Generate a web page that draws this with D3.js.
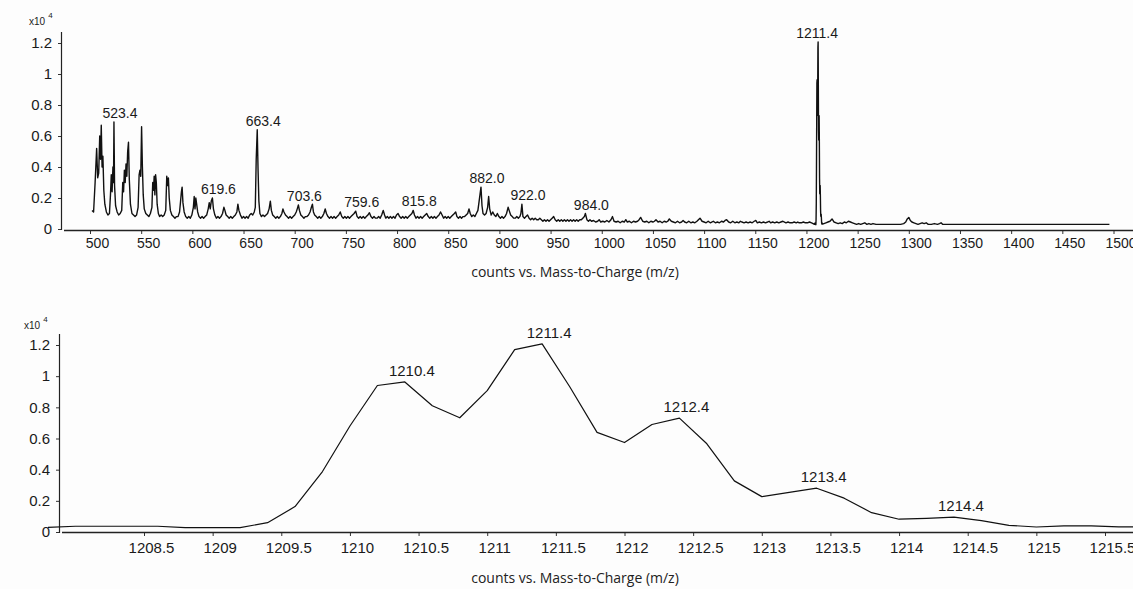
<!DOCTYPE html>
<html>
<head>
<meta charset="utf-8">
<script src="https://cdn.jsdelivr.net/npm/d3@7"></script>
<style>
  html, body { margin: 0; padding: 0; background: #fdfdfd; }
  svg { display: block; }
  .tick text { font-family: "Liberation Sans", Arial, sans-serif; fill: #1a1a1a; }
  .tick line { stroke: #333; }
  .peak-label { font-family: "Liberation Sans", Arial, sans-serif; fill: #1a1a1a; text-anchor: middle; }
  .axis-title { font-family: "Open Sans", "Noto Sans", sans-serif; fill: #222; text-anchor: middle; }
  .exp { font-family: "Liberation Sans", Arial, sans-serif; fill: #222; }
</style>
</head>
<body>
<svg id="chart" width="1133" height="589"></svg>
<script>
// Full scan, [m/z, counts x10^4], split by mass range
const scan500 = [
  [502,.12],[503.5,.11],[505,.30],[506.5,.52],[507.5,.33],[508.5,.36],[509.5,.60],[510.3,.45],[511,.67],[511.8,.40],
  [512.6,.47],[513.5,.25],[514.5,.16],[516,.11],[517.5,.09],[519,.10],[520,.22],[520.8,.35],[521.6,.24],[522.4,.40],
  [523,.30],[523.4,.69],[524,.28],[525,.15],[526.5,.11],[528,.09],[529.5,.10],[531,.12],[532,.30],[532.8,.24],
  [533.6,.38],[534.4,.30],[535.2,.42],[536,.34],[536.8,.50],[537.6,.56],[538.4,.32],[539.5,.16],[541,.10],[542.5,.09],
  [544,.08],[545.5,.09],[547,.14],[548,.35],[548.8,.38],[549.6,.34],[550.4,.66],[551.2,.40],[552,.22],[553,.13],
  [554.5,.10],[556,.09],[557.5,.08],[559,.10]
];
const scan560 = [
  [560.5,.14],[561.3,.30],[562,.25],[562.7,.34],[563.4,.22],[564.1,.35],[564.8,.30],[565.6,.16],[566.8,.10],[568,.08],
  [569.5,.09],[571,.08],[572.5,.09],[574,.12],[575,.34],[575.8,.28],[576.6,.33],[577.4,.20],[578.5,.12],[580,.09],
  [581.5,.08],[583,.07],[584.5,.08],[586,.08],[587.5,.11],[588.5,.18],[589.3,.24],[590,.27],[590.8,.17],[592,.11],
  [593.5,.08],[595,.07],[596.5,.08],[598,.07],[599.5,.09],[601,.14],[601.8,.21],[602.6,.13],[603.4,.20],[604.2,.16],
  [605.2,.11],[606.5,.08],[608,.07],[609.5,.08],[611,.07],[612.5,.08],[614,.09],[615.5,.13],[616.5,.17],[617.5,.13],
  [618.5,.18],[619.6,.20],[620.6,.13],[622,.09],[623.5,.07],[625,.08],[626.5,.07],[628,.08],[629.5,.10],[630.8,.14],
  [631.8,.12],[633,.09],[634.5,.08],[636,.07],[637.5,.08],[639,.07],[640.5,.08],[642,.09],[643.5,.11],[644.5,.16],
  [645.5,.12],[647,.09],[648.5,.07],[650,.08],[651.5,.07],[653,.08],[654.5,.07],[656,.09],[657.5,.10],[659,.09],
  [660.5,.11],[661.5,.14],[662.4,.45],[663.4,.64],[664.2,.38],[665,.18],[666,.10]
];
const scan667 = [
  [667.5,.08],[669,.09],[670.5,.08],[672,.09],[673.5,.10],[675,.13],[676.2,.18],[677.2,.12],[678.5,.09],[680,.08],
  [681.5,.07],[683,.08],[684.5,.07],[686,.08],[687.5,.10],[688.5,.13],[689.5,.11],[691,.09],[692.5,.08],[694,.07],
  [695.5,.08],[697,.07],[698.5,.08],[700,.09],[701.5,.11],[702.5,.13],[703.6,.155],[704.6,.12],[706,.09],[707.5,.08],
  [709,.07],[710.5,.08],[712,.08],[713.5,.09],[715,.11],[716.3,.14],[717.3,.16],[718.3,.11],[719.5,.09],[721,.08],
  [722.5,.07],[724,.08],[725.5,.07],[727,.08],[728.5,.10],[729.8,.13],[731,.10],[732.5,.08],[734,.07],[735.5,.08],
  [737,.07],[738.5,.08],[740,.07],[741.5,.08],[743,.09],[744.5,.11],[746,.08],[747.5,.07],[749,.08],[750.5,.07],
  [752,.08],[753.5,.07],[755,.08],[756.5,.09],[758,.10],[759.6,.115],[761,.08],[762.5,.07],[764,.08],[765.5,.07],
  [767,.08],[768.5,.07],[770,.08],[771.5,.09],[773,.105],[774.5,.08],[776,.07],[777.5,.08],[779,.07],[780.5,.07],
  [782,.08],[783.5,.07],[785,.09],[786.5,.12],[787.8,.09],[789,.07],[790.5,.08],[792,.07],[793.5,.08],[795,.07],
  [796.5,.08],[798,.07],[799.5,.09],[801,.10],[802.5,.08],[804,.07],[805.5,.08],[807,.07],[808.5,.08],[810,.07],
  [811.5,.08],[813,.09],[814.5,.10],[815.8,.12],[817,.09],[818.5,.07],[820,.08],[821.5,.07],[823,.08],[824.5,.07],
  [826,.08],[827.5,.09],[829,.10],[830.5,.08],[832,.07],[833.5,.08],[835,.07],[836.5,.08],[838,.07],[839.5,.08],
  [841,.09],[842.5,.11],[844,.09],[845.5,.07],[847,.08],[848.5,.07],[850,.08],[851.5,.07],[853,.08],[854.5,.09],
  [856,.10],[857.3,.11],[858.5,.08],[860,.07],[861.5,.08],[863,.07],[864.5,.08],[866,.08],[867.5,.09],[869,.10],
  [870.3,.13],[871.5,.10],[873,.08],[874.5,.09],[876,.08],[877.5,.10],[879,.12],[880.2,.18],[881,.22],[882,.27],
  [883,.15],[884,.10],[885.5,.09],[887,.10],[888.5,.14],[889.5,.21],[890.5,.13],[892,.09],[893.5,.11],[895,.09],
  [896.5,.08],[898,.10],[899.5,.08],[901,.07],[902.5,.08],[904,.07],[905.5,.08],[907,.10],[908.5,.14],[909.5,.12],
  [911,.09],[912.5,.08],[914,.07],[915.5,.07],[917,.08],[918.5,.07],[920,.08],[921,.10],[922,.16],[923,.08],
  [924.5,.07],[926,.08],[927.5,.09],[929,.07],[930.5,.06],[932,.07],[933.5,.06],[935,.07],[936.5,.06],[938,.06],
  [939.5,.07],[941,.06],[942.5,.05],[944,.06],[945.5,.05],[947,.06],[948.5,.05],[950,.06],[951.5,.07],[953,.08],
  [954.5,.06],[956,.05],[957.5,.06],[959,.05],[960.5,.06],[962,.05],[963.5,.06],[965,.05],[966.5,.06],[968,.05],
  [969.5,.06],[971,.05],[972.5,.06],[974,.05],[975.5,.06],[977,.05],[978.5,.06],[980,.06],[981.5,.07],[983,.08],
  [984,.10],[985.5,.06],[987,.05],[988.5,.06],[990,.05]
];
const scan992 = [
  [992,.055],[994,.045],[996,.05],[997.5,.06],[999,.045],[1001,.05],[1003,.045],[1005,.055],[1007,.045],[1009,.06],
  [1010.5,.08],[1012,.05],[1014,.045],[1016,.05],[1018,.04],[1020,.05],[1022,.045],[1023.5,.06],[1025,.045],[1027,.05],
  [1029,.04],[1031,.05],[1033,.045],[1035,.05],[1036.5,.06],[1038,.075],[1040,.05],[1042,.045],[1044,.05],[1046,.04],
  [1048,.05],[1050,.045],[1051.5,.05],[1053,.06],[1055,.045],[1057,.05],[1059,.04],[1061,.05],[1063,.045],[1064.5,.05],
  [1066,.065],[1068,.05],[1070,.045],[1072,.04],[1074,.05],[1076,.04],[1078,.045],[1079.5,.055],[1081,.045],[1083,.04],
  [1085,.05],[1087,.04],[1089,.045],[1091,.04],[1093,.05],[1094.5,.06],[1096,.07],[1098,.05],[1100,.045],[1102,.04],
  [1104,.05],[1106,.04],[1107.5,.045],[1109,.05],[1111,.04],[1113,.045],[1115,.04],[1117,.05],[1119,.045],[1120.5,.055],
  [1122,.06],[1124,.045],[1126,.04],[1128,.05],[1130,.04],[1132,.045],[1134,.04],[1135.5,.05],[1137,.045],[1139,.04],
  [1141,.045],[1143,.04],[1145,.045],[1147,.04],[1149,.05],[1150.5,.055],[1152,.04],[1154,.045],[1156,.04],[1158,.045],
  [1160,.04],[1162,.045],[1163.5,.05],[1165,.04],[1167,.045],[1169,.04],[1171,.045],[1173,.04],[1175,.045],[1177,.05],
  [1178.5,.045],[1180,.04],[1182,.045],[1184,.04],[1186,.04],[1188,.045],[1190,.04],[1191.5,.045],[1193,.04],[1195,.04],
  [1197,.045],[1199,.04],[1201,.04],[1203,.045],[1205,.04],[1206.5,.035]
];
const scan1217 = [
  [1217,.035],[1219,.04],[1221,.045],[1223,.05],[1225,.065],[1227,.045],[1229,.04],[1231,.035],[1233,.04],[1235,.035],
  [1237,.045],[1239,.04],[1241,.05],[1243,.045],[1245,.04],[1247,.035],[1249,.03],[1251,.035],[1253,.03],[1255,.035],
  [1257,.04],[1259,.03],[1261,.035],[1263,.03],[1265,.035],[1268,.03],[1272,.03],[1276,.03],[1280,.03],[1284,.03],
  [1288,.03],[1292,.03],[1295,.035],[1297,.045],[1298.5,.065],[1300,.075],[1301.5,.055],[1303,.045],[1305,.04],[1307,.035],
  [1309,.03],[1311,.035],[1313,.04],[1315,.035],[1317,.04],[1319,.03],[1322,.03],[1325,.035],[1328,.03],[1330,.035],
  [1331.5,.04],[1333,.03],[1336,.03],[1496,.03]
];

// Zoomed scan: isotope envelope of the 1211.4 ion
const zoomMz = [
  1207.8,1208.0,1208.2,1208.4,1208.6,1208.8,1209.0,1209.2,1209.4,1209.6,1209.8,1210.0,1210.2,1210.4,1210.6,1210.8,
  1211.0,1211.2,1211.4,1211.6,1211.8,1212.0,1212.2,1212.4,1212.6,1212.8,1213.0,1213.2,1213.4,1213.6,1213.8,1214.0,
  1214.2,1214.4,1214.6,1214.8,1215.0,1215.2,1215.4,1215.6,1215.8
];
const zoomCounts = [
  .030,.037,.037,.037,.037,.028,.028,.028,.060,.163,.388,.680,.940,.963,.810,.733,
  .907,1.170,1.207,.934,.639,.574,.690,.731,.566,.328,.227,.254,.281,.217,.124,.082,
  .088,.095,.073,.043,.032,.039,.039,.033,.032
];

// Axis ticks and annotations
const scanTicks = [500,550,600,650,700,750,800,850,900,950,1000,1050,1100,1150,1200,1250,1300,1350,1400,1450,1500];
const zoomTicks = [1208.5,1209,1209.5,1210,1210.5,1211,1211.5,1212,1212.5,1213,1213.5,1214,1214.5,1215,1215.5];
const countTicks = [0,0.2,0.4,0.6,0.8,1,1.2];
const scanPeakLabels = [523.4,619.6,663.4,703.6,759.6,815.8,882.0,922.0,984.0,1211.4];
const zoomPeakLabels = [1210.4,1211.4,1212.4,1213.4,1214.4];
const xTitle = "counts vs. Mass-to-Charge (m/z)";

const svg = d3.select("#chart");

const zoomData = zoomMz.map((m, i) => ({ mz: m, v: zoomCounts[i] }));
const fromPairs = arr => arr.map(([m, v]) => ({ mz: m, v: v }));
// the full scan shares the isotope envelope samples around 1211
const scanData = [].concat(
  fromPairs(scan500), fromPairs(scan560), fromPairs(scan667), fromPairs(scan992),
  zoomData, fromPairs(scan1217)
);

function countAt(data, m) {
  return d3.least(data, d => Math.abs(d.mz - m)).v;
}

function panel(cfg) {
  const g = svg.append("g");
  const x = d3.scaleLinear().domain(cfg.xDomain).range(cfg.xRange);
  const y = d3.scaleLinear().domain([0, 1.2]).range([cfg.y0, cfg.y12]);

  // x axis
  const xa = g.append("g")
    .attr("transform", `translate(0,${cfg.axisY})`)
    .call(d3.axisBottom(x).tickValues(cfg.ticks).tickSize(4).tickPadding(cfg.xPad)
      .tickFormat(d => String(d)));
  xa.select(".domain").remove();
  xa.selectAll(".tick text").attr("dx", 7).style("font-size", cfg.xFont + "px");
  g.append("line")
    .attr("x1", cfg.xAxisStart).attr("x2", 1133)
    .attr("y1", cfg.axisY + 0.5).attr("y2", cfg.axisY + 0.5)
    .attr("stroke", "#222").attr("stroke-width", 1.6);

  // y axis
  const ya = g.append("g")
    .attr("transform", `translate(${cfg.axisX},0)`)
    .call(d3.axisLeft(y).tickValues(countTicks).tickSize(3).tickPadding(6)
      .tickFormat(d => String(d)));
  ya.select(".domain").remove();
  ya.selectAll(".tick text").style("font-size", "15px");
  g.append("line")
    .attr("x1", cfg.axisX + 0.5).attr("x2", cfg.axisX + 0.5)
    .attr("y1", cfg.yTop).attr("y2", cfg.y0 + 1)
    .attr("stroke", "#222").attr("stroke-width", 1.2);

  // trace
  const line = d3.line().defined(d => isFinite(d.v)).x(d => x(d.mz)).y(d => y(d.v));
  g.append("path")
    .datum(cfg.data)
    .attr("d", line)
    .attr("fill", "none")
    .attr("stroke", "#111")
    .attr("stroke-width", cfg.strokeW)
    .attr("stroke-linejoin", "round");

  // peak annotations
  g.selectAll("text.peak-label")
    .data(cfg.labels)
    .join("text")
    .attr("class", "peak-label")
    .attr("x", m => x(m) + cfg.labelDx(m))
    .attr("y", m => y(countAt(cfg.data, m)) - cfg.labelGap)
    .style("font-size", cfg.labelFont + "px")
    .text(m => m.toFixed(1));

  // axis title
  g.append("text")
    .attr("class", "axis-title")
    .attr("x", 575).attr("y", cfg.titleY)
    .style("font-size", "14px")
    .text(xTitle);

  // exponent marker
  const ex = g.append("text").attr("class", "exp")
    .attr("x", cfg.expX).attr("y", cfg.expY);
  ex.append("tspan").style("font-size", "10px").text("x10");
  ex.append("tspan").attr("dx", 3).attr("dy", -7).style("font-size", "8px").text("4");
}

panel({
  data: scanData, labels: scanPeakLabels, ticks: scanTicks,
  xDomain: [500, 1500], xRange: [90, 1113.5],
  y0: 229, y12: 43, yTop: 32, axisY: 230, axisX: 61, xAxisStart: 64,
  xPad: 4, xFont: 14, labelFont: 14, labelGap: 4, strokeW: 1.4,
  labelDx: m => (m > 1200 ? -1 : 6),
  titleY: 277, expX: 29, expY: 25
});

panel({
  data: zoomData, labels: zoomPeakLabels, ticks: zoomTicks,
  xDomain: [1208.5, 1215.5], xRange: [144, 1105],
  y0: 532, y12: 345, yTop: 334, axisY: 532, axisX: 59, xAxisStart: 62,
  xPad: 6, xFont: 15, labelFont: 15, labelGap: 6, strokeW: 1.2,
  labelDx: () => 7,
  titleY: 583, expX: 24, expY: 329
});
</script>
</body>
</html>
